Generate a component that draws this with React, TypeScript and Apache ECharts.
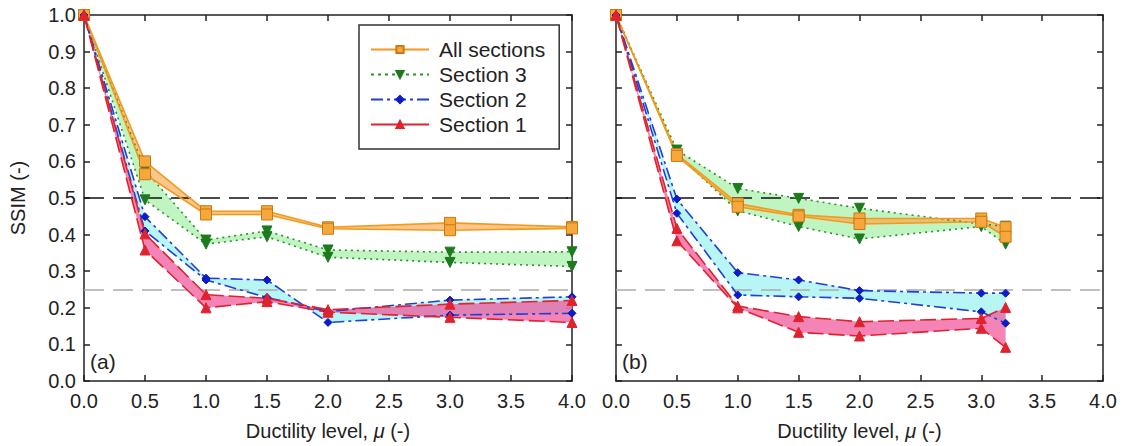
import React, { useEffect, useRef } from 'react';
import * as echarts from 'echarts';

// ---------- data ----------
const xA = [0, 0.5, 1.0, 1.5, 2.0, 3.0, 4.0];
const xB = [0, 0.5, 1.0, 1.5, 2.0, 3.0, 3.2];

// panel (a)
const allUpperA = [1, 0.6, 0.464, 0.464, 0.42, 0.432, 0.421];
const allLowerA = [1, 0.565, 0.455, 0.455, 0.416, 0.412, 0.417];
const s3UpperA = [1, 0.576, 0.385, 0.41, 0.358, 0.352, 0.353];
const s3LowerA = [1, 0.495, 0.374, 0.394, 0.338, 0.324, 0.313];
const s2UpperA = [1, 0.449, 0.281, 0.276, 0.16, 0.18, 0.185];
const s2LowerA = [1, 0.41, 0.276, 0.228, 0.19, 0.221, 0.23];
const s1UpperA = [1, 0.402, 0.236, 0.226, 0.195, 0.21, 0.22];
const s1LowerA = [1, 0.358, 0.2, 0.217, 0.188, 0.174, 0.16];

// panel (b)
const allUpperB = [1, 0.62, 0.485, 0.454, 0.444, 0.444, 0.42];
const allLowerB = [1, 0.615, 0.476, 0.45, 0.429, 0.435, 0.394];
const s3UpperB = [1, 0.631, 0.526, 0.499, 0.472, 0.429, 0.423];
const s3LowerB = [1, 0.62, 0.465, 0.422, 0.388, 0.422, 0.374];
const s2UpperB = [1, 0.497, 0.296, 0.276, 0.247, 0.24, 0.24];
const s2LowerB = [1, 0.458, 0.235, 0.23, 0.226, 0.189, 0.158];
const s1UpperB = [1, 0.417, 0.205, 0.176, 0.162, 0.171, 0.201];
const s1LowerB = [1, 0.383, 0.2, 0.133, 0.123, 0.144, 0.092];

const seriesNames = ['All sections', 'Section 3', 'Section 2', 'Section 1'];
const refLines = [0.5, 0.25];
const panelLabels = ['(a)', '(b)'];

const FONT = '"Liberation Sans", Arial, Helvetica, sans-serif';
const AX = '#222';

const styles: any = {
  'All sections': {
    color: '#f39a1c', symbol: 'rect', size: 11, rotate: 0, type: 'solid',
    mColor: '#f7a73c', mBorder: '#c87a12', band: 'rgba(246,168,80,0.65)',
  },
  'Section 3': {
    color: '#2d8f2d', symbol: 'triangle', size: 10, rotate: 180, type: [2, 4],
    mColor: '#1d7a1d', mBorder: '#1d7a1d', band: 'rgba(150,236,150,0.6)',
  },
  'Section 2': {
    color: '#1f3fd8', symbol: 'diamond', size: 8, rotate: 0, type: [12, 4, 3, 4],
    mColor: '#0c1cc8', mBorder: '#0c1cc8', band: 'rgba(160,242,242,0.75)',
  },
  'Section 1': {
    color: '#e0222e', symbol: 'triangle', size: 10, rotate: 0, type: [16, 5],
    mColor: '#e0222e', mBorder: '#e0222e', band: 'rgba(238,84,152,0.72)',
  },
};

const panels = [
  {
    xs: xA,
    data: {
      'All sections': [allUpperA, allLowerA],
      'Section 3': [s3UpperA, s3LowerA],
      'Section 2': [s2UpperA, s2LowerA],
      'Section 1': [s1UpperA, s1LowerA],
    } as any,
  },
  {
    xs: xB,
    data: {
      'All sections': [allUpperB, allLowerB],
      'Section 3': [s3UpperB, s3LowerB],
      'Section 2': [s2UpperB, s2LowerB],
      'Section 1': [s1UpperB, s1LowerB],
    } as any,
  },
];

const bandOrder = ['Section 3', 'All sections', 'Section 2', 'Section 1'];
const lineOrder = ['Section 3', 'All sections', 'Section 2', 'Section 1'];

function buildOption() {
  const grids = [
    { left: 84, top: 15, width: 488, height: 366 },
    { left: 616, top: 15, width: 487, height: 366 },
  ];
  const xAxes: any[] = [];
  const yAxes: any[] = [];
  const series: any[] = [];
  const lineStyle = { color: AX, width: 1.5 };

  grids.forEach((_, g) => {
    const xName = '{n|Ductility level, }{m|μ}{n| (-)}';
    xAxes.push({
      gridIndex: g, type: 'value', min: 0, max: 4, interval: 0.5, position: 'bottom',
      axisLine: { show: true, onZero: false, lineStyle },
      axisTick: { show: true, inside: true, length: 6, lineStyle },
      axisLabel: {
        show: true, formatter: (v: number) => v.toFixed(1), fontSize: 20, color: AX,
        fontFamily: FONT, margin: 10, showMinLabel: true, showMaxLabel: true,
      },
      splitLine: { show: false },
      name: xName, nameLocation: 'middle', nameGap: 40,
      nameTextStyle: {
        rich: {
          n: { fontSize: 20, color: AX, fontFamily: FONT },
          m: { fontSize: 20, color: AX, fontFamily: FONT, fontStyle: 'italic' },
        },
      },
    });
    xAxes.push({
      gridIndex: g, type: 'value', min: 0, max: 4, interval: 0.5, position: 'top',
      axisLine: { show: true, onZero: false, lineStyle },
      axisTick: { show: true, inside: true, length: 6, lineStyle },
      axisLabel: { show: false },
      splitLine: { show: false },
    });
    yAxes.push({
      gridIndex: g, type: 'value', min: 0, max: 1, interval: 0.1, position: 'left',
      axisLine: { show: true, onZero: false, lineStyle },
      axisTick: { show: true, inside: true, length: 6, lineStyle },
      axisLabel: {
        show: g === 0, formatter: (v: number) => v.toFixed(1), fontSize: 20, color: AX,
        fontFamily: FONT, margin: 8, showMinLabel: true, showMaxLabel: true,
      },
      splitLine: { show: false },
      name: g === 0 ? 'SSIM (-)' : '', nameLocation: 'middle', nameGap: 56, nameRotate: 90,
      nameTextStyle: { fontSize: 20, color: AX, fontFamily: FONT },
    });
    yAxes.push({
      gridIndex: g, type: 'value', min: 0, max: 1, interval: 0.1, position: 'right',
      axisLine: { show: true, onZero: false, lineStyle },
      axisTick: { show: true, inside: true, length: 6, lineStyle },
      axisLabel: { show: false },
      splitLine: { show: false },
    });

    const p = panels[g];
    const xs = p.xs;
    // bands
    bandOrder.forEach((nm) => {
      const [up, lo] = p.data[nm];
      series.push({
        type: 'custom', xAxisIndex: g * 2, yAxisIndex: g * 2, silent: true, z: 2,
        data: [[xs[0], up[0]]],
        renderItem: (_params: any, api: any) => {
          const pts: number[][] = [];
          for (let i = 0; i < xs.length; i++) pts.push(api.coord([xs[i], up[i]]));
          for (let i = xs.length - 1; i >= 0; i--) pts.push(api.coord([xs[i], lo[i]]));
          return { type: 'polygon', shape: { points: pts }, style: { fill: styles[nm].band, stroke: 'none' } };
        },
      });
    });
    // reference lines
    series.push({
      type: 'line', xAxisIndex: g * 2, yAxisIndex: g * 2, data: [], silent: true, z: 3,
      markLine: {
        silent: true, symbol: ['none', 'none'], label: { show: false },
        data: [
          { yAxis: refLines[0], lineStyle: { color: '#111', width: 1.6, type: [20, 9] } },
          { yAxis: refLines[1], lineStyle: { color: '#aaaaaa', width: 1.6, type: [20, 9] } },
        ],
      },
    });
    // lines
    lineOrder.forEach((nm) => {
      const st = styles[nm];
      p.data[nm].forEach((ys: number[]) => {
        series.push({
          type: 'line', name: nm, xAxisIndex: g * 2, yAxisIndex: g * 2, z: 5,
          data: xs.map((x, i) => [x, ys[i]]),
          symbol: st.symbol, symbolSize: st.size, symbolRotate: st.rotate, showSymbol: true,
          lineStyle: { color: st.color, width: 1.6, type: st.type },
          itemStyle: { color: st.mColor, borderColor: st.mBorder, borderWidth: 1 },
        });
      });
    });
  });

  return {
    animation: false,
    backgroundColor: '#ffffff',
    grid: grids,
    xAxis: xAxes,
    yAxis: yAxes,
    series,
    legend: {
      show: true, orient: 'vertical', left: 359, top: 25,
      selectedMode: false,
      backgroundColor: '#ffffff',
      borderColor: '#333', borderWidth: 1.5,
      padding: [14, 14, 14, 11],
      itemWidth: 58, itemHeight: 9, itemGap: 4,
      textStyle: { fontSize: 21, color: AX, fontFamily: FONT, padding: [0, 0, 0, 5] },
      data: seriesNames.map((nm) => ({
        name: nm,
        lineStyle: nm === 'Section 1' ? { type: 'solid' } : nm === 'Section 3' ? { type: [3, 4] } : undefined,
      })),
    },
    graphic: [
      { type: 'text', left: 90, top: 351, style: { text: panelLabels[0], fontSize: 21, fill: AX, fontFamily: FONT } },
      { type: 'text', left: 622, top: 351, style: { text: panelLabels[1], fontSize: 21, fill: AX, fontFamily: FONT } },
    ],
  };
}

export default function App() {
  const ref = useRef<HTMLDivElement>(null);
  useEffect(() => {
    if (!ref.current) return;
    const chart = echarts.init(ref.current, undefined, { renderer: 'svg' });
    chart.setOption(buildOption() as any);
    return () => chart.dispose();
  }, []);
  return (
    <div
      ref={ref}
      style={{ position: 'fixed', left: 0, top: 0, width: 1128, height: 446, background: '#fff' }}
    />
  );
}
